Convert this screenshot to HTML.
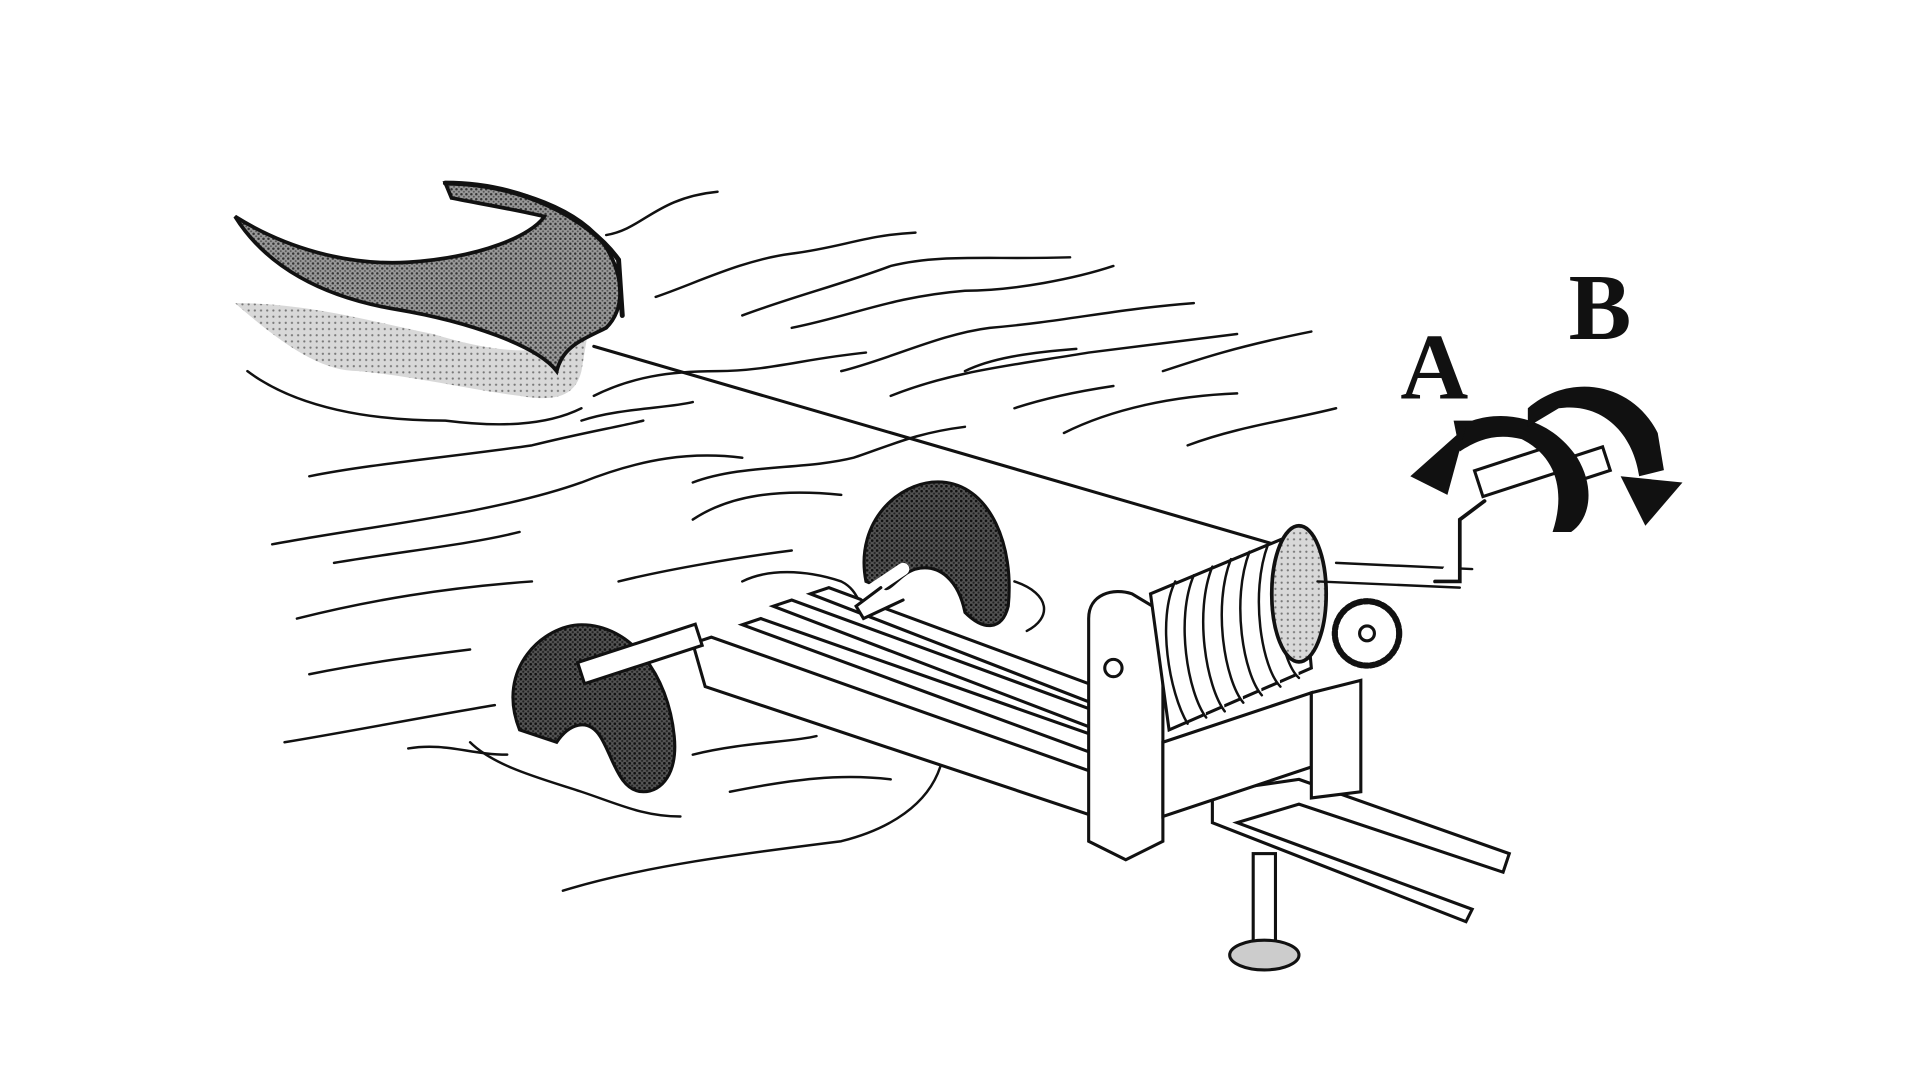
<!DOCTYPE html>
<html><head><meta charset="utf-8"><style>
html,body{margin:0;padding:0;background:#fff;width:1920px;height:1080px;overflow:hidden}
svg{display:block}
</style></head><body>
<svg width="1920" height="1080" viewBox="0 0 1552 873" preserveAspectRatio="none" xmlns="http://www.w3.org/2000/svg">
<defs>
<pattern id="dots" width="4" height="4" patternUnits="userSpaceOnUse">
<rect width="4" height="4" fill="#9a9a9a"/><circle cx="1" cy="1" r="1" fill="#333"/><circle cx="3" cy="3" r="0.8" fill="#555"/>
</pattern>
<pattern id="dark" width="4" height="4" patternUnits="userSpaceOnUse">
<rect width="4" height="4" fill="#555"/><circle cx="1" cy="1" r="1.1" fill="#111"/><circle cx="3" cy="3" r="0.9" fill="#222"/>
</pattern>
<pattern id="light" width="5" height="5" patternUnits="userSpaceOnUse">
<rect width="5" height="5" fill="#d8d8d8"/><circle cx="1" cy="1" r="0.9" fill="#777"/>
</pattern>
</defs>
<g fill="none" stroke="#111" stroke-width="2.5" stroke-linecap="round">
<!-- waves -->
<g stroke-width="2">
<path d="M490 190 C520 185 530 160 580 155"/>
<path d="M530 240 C560 230 600 210 640 205 C680 200 700 190 740 188"/>
<path d="M600 255 C640 240 680 230 720 215 C760 205 800 210 865 208"/>
<path d="M640 265 C690 255 720 240 780 235 C820 235 870 225 900 215"/>
<path d="M680 300 C720 290 760 270 800 265 C860 260 900 250 965 245"/>
<path d="M720 320 C770 300 820 295 880 285 C920 280 960 275 1000 270"/>
<path d="M780 300 C800 290 830 285 870 282"/>
<path d="M940 300 C970 290 1000 280 1060 268"/>
<path d="M860 350 C900 330 950 320 1000 318"/>
<path d="M960 360 C1000 345 1040 340 1080 330"/>
<path d="M480 320 C510 305 540 300 580 300 C620 300 650 290 700 285"/>
<path d="M470 340 C500 330 540 330 560 325"/>
<path d="M250 385 C300 375 360 370 430 360 C470 350 500 345 520 340"/>
<path d="M220 440 C300 425 400 415 470 390 C520 370 560 365 600 370"/>
<path d="M270 455 C330 445 380 440 420 430"/>
<path d="M560 390 C600 375 650 380 690 370 C720 360 740 350 780 345"/>
<path d="M240 500 C300 485 360 475 430 470"/>
<path d="M560 420 C590 400 630 395 680 400"/>
<path d="M500 470 C540 460 600 450 640 445"/>
<path d="M250 545 C300 535 340 530 380 525"/>
<path d="M230 600 C290 590 340 580 400 570"/>
<path d="M330 605 C360 600 380 610 410 610"/>
<path d="M600 470 C620 460 650 460 680 470 C700 480 690 500 720 500"/>
<path d="M820 470 C850 480 850 500 830 510"/>
<path d="M380 600 C400 620 440 630 470 640 C500 650 520 660 550 660"/>
<path d="M560 610 C600 600 640 600 660 595"/>
<path d="M590 640 C640 630 680 625 720 630"/>
<path d="M455 720 C520 700 600 690 680 680 C720 670 750 650 760 620"/>
<path d="M820 330 C850 320 880 315 900 312"/>
</g>
<!-- lower gray wake -->
<path d="M190 245 C230 280 260 300 290 300 C340 305 380 315 420 320 C450 325 465 320 470 300 L475 270 C440 290 400 285 350 270 C300 260 250 245 190 245 Z" fill="url(#light)" stroke="none"/>
<path d="M200 300 C240 330 300 340 360 340 C400 345 440 345 470 330" stroke-width="2"/>
<!-- hand shape -->
<path d="M190 175 C230 200 280 215 330 212 C390 208 430 190 440 175 C420 170 390 165 365 160 L360 148 C420 150 470 170 490 200 C505 225 505 250 490 265 C470 275 455 280 450 300 C435 280 380 260 320 250 C260 240 215 215 190 175 Z" fill="url(#dots)" stroke-width="3"/>
<path d="M360 148 C420 148 475 175 500 210 L503 255" stroke-width="4"/>
<!-- string -->
<line x1="480" y1="280" x2="1030" y2="440" stroke-width="2.5"/>
<!-- track -->
<g fill="#fff">
<path d="M560 520 L575 515 L900 630 L900 665 L570 555 Z"/>
<path d="M600 505 L615 500 L900 600 L900 615 Z"/>
<path d="M625 490 L640 485 L900 580 L900 595 Z"/>
<path d="M655 480 L670 475 L900 560 L900 575 Z"/>
</g>
<!-- wheels -->
<g>
<path d="M700 470 C690 420 730 385 765 390 C800 395 820 440 815 490 C810 510 795 510 780 495 C775 470 760 455 740 460 C725 465 720 480 712 475 Z" fill="url(#dark)"/>
<path d="M730 460 L700 480" stroke-width="10" stroke="#fff"/>
<path d="M712 475 L692 490 L698 500 L730 485" fill="#fff"/>
</g>
<g>
<path d="M420 590 C400 540 440 505 470 505 C510 505 540 545 545 595 C548 625 535 640 520 640 C500 640 495 610 485 595 C475 580 460 585 450 600 Z" fill="url(#dark)"/>
<rect x="470" y="535" width="100" height="18" transform="rotate(-18 470 545)" fill="#fff"/>
</g>
<!-- table -->
<g fill="#fff">
<path d="M980 640 L1050 630 L1220 690 L1215 705 L1050 650 L1000 665 L1190 735 L1185 745 L980 665 Z"/>
<rect x="1013" y="690" width="18" height="75"/>
<ellipse cx="1022" cy="772" rx="28" ry="12" fill="#ccc"/>
</g>
<!-- frame -->
<g fill="#fff">
<path d="M880 500 C880 480 900 475 915 480 L940 495 L940 680 L910 695 L880 680 Z"/>
<path d="M940 600 L1060 560 L1060 620 L940 660 Z"/>
<path d="M1060 560 L1100 550 L1100 640 L1060 645 Z"/>
<circle cx="900" cy="540" r="7"/>
</g>
<!-- coil -->
<g fill="#fff">
<path d="M930 480 L1050 430 L1060 540 L945 590 Z"/>
<path d="M950 470 C935 500 945 560 960 585 M965 465 C950 500 960 560 975 580 M980 458 C965 495 975 555 990 575 M995 452 C980 490 990 550 1005 568 M1010 446 C995 485 1005 545 1020 562 M1025 440 C1010 480 1020 540 1035 555 M1040 435 C1025 475 1035 535 1050 548" stroke-width="2"/>
<ellipse cx="1050" cy="480" rx="22" ry="55" fill="url(#light)" stroke-width="3"/>
</g>
<!-- gear & crank -->
<g>
<circle cx="1105" cy="512" r="26" fill="#fff" stroke-width="5" stroke-dasharray="3 2"/>
<circle cx="1105" cy="512" r="6" fill="#fff"/>
<path d="M1065 470 L1180 475 M1080 455 L1190 460" stroke-width="2"/>
</g>
<g fill="#fff">
<path d="M1160 470 L1180 470 L1180 420 L1200 405" stroke-width="3"/>
<rect x="1195" y="380" width="70" height="22" transform="rotate(-18 1195 390)"/>
<rect x="1270" y="370" width="30" height="20" transform="rotate(-18 1270 380)"/>
</g>
<!-- arrows -->
<g fill="#111" stroke="none">
<path d="M1190 340 C1220 330 1255 340 1275 370 C1290 395 1285 420 1270 430 L1255 430 C1265 400 1260 370 1230 355 C1210 350 1195 355 1180 365 L1175 340 Z"/>
<path d="M1185 345 L1140 385 L1170 400 Z"/>
</g>
<g fill="#111" stroke="none">
<path d="M1235 330 C1270 300 1320 310 1340 350 L1345 380 L1325 385 C1320 350 1295 325 1260 330 L1235 345 Z"/>
<path d="M1310 385 L1360 390 L1330 425 Z"/>
</g>
</g>
<text x="1132" y="322" font-family="Liberation Serif, serif" font-weight="bold" font-size="76" fill="#111">A</text>
<text x="1268" y="274" font-family="Liberation Serif, serif" font-weight="bold" font-size="76" fill="#111">B</text>
</svg>
</body></html>
